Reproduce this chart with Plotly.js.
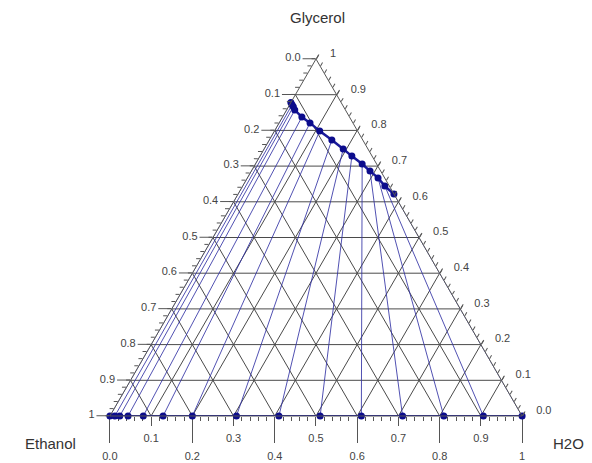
<!DOCTYPE html>
<html>
<head>
<meta charset="utf-8">
<script src="https://cdn.plot.ly/plotly-3.0.1.min.js"></script>
<style>
  html, body { margin: 0; padding: 0; background: #fff; }
  #chart { width: 592px; height: 463px; }
</style>
</head>
<body>
<div id="chart"></div>
<script>
// Tie lines: each joins a point on the Ethanol–H2O edge (no glycerol)
// to a glycerol-rich point near the top of the diagram.
const h2oBottom = [0, 0.012, 0.024, 0.044, 0.081, 0.129, 0.2, 0.307, 0.41, 0.51, 0.61, 0.71, 0.81, 0.906, 1.0];
const glycerolTop = [0.878, 0.872, 0.866, 0.857, 0.8375, 0.821, 0.798, 0.773, 0.748, 0.728, 0.706, 0.686, 0.667, 0.644, 0.622];
const h2oTop = [0, 0.006, 0.012, 0.020, 0.047, 0.075, 0.11, 0.152, 0.192, 0.223, 0.259, 0.288, 0.317, 0.345, 0.378];

// Grid levels and edge labels
const gridLevels = [0.1, 0.2, 0.3, 0.4, 0.5, 0.6, 0.7, 0.8, 0.9];
const majorVals = [0, 0.1, 0.2, 0.3, 0.4, 0.5, 0.6, 0.7, 0.8, 0.9, 1];
const ethanolLabels = ['1', '0.9', '0.8', '0.7', '0.6', '0.5', '0.4', '0.3', '0.2', '0.1', '0.0'];  // left edge, at glycerol 0 → 1
const h2oLabels = ['0.0', '0.1', '0.2', '0.3', '0.4', '0.5', '0.6', '0.7', '0.8', '0.9', '1'];      // bottom edge, at water 0 → 1
const glycerolLabels = ['1', '0.9', '0.8', '0.7', '0.6', '0.5', '0.4', '0.3', '0.2', '0.1', '0.0']; // right edge, at water 0 → 1

// minor ticks every 0.02
const minorVals = [];
for (let i = 0; i <= 50; i++) minorVals.push(i / 50);

// Tie-line segments, separated by gaps
const tieA = [], tieB = [], tieC = [];
h2oBottom.forEach((w, i) => {
  tieA.push(0, glycerolTop[i], null);
  tieC.push(w, h2oTop[i], null);
  tieB.push(1 - w, 1 - glycerolTop[i] - h2oTop[i], null);
});

// Grid lines of constant glycerol, ethanol and water
const gA = [], gB = [], gC = [];
gridLevels.forEach(v => {
  gA.push(v, v, null);     gB.push(1 - v, 0, null);  gC.push(0, 1 - v, null);
  gA.push(1 - v, 0, null); gB.push(v, v, null);      gC.push(0, 1 - v, null);
  gA.push(1 - v, 0, null); gB.push(0, 1 - v, null);  gC.push(v, v, null);
});

const FONT = 'Liberation Sans, Arial, sans-serif';
const TICKFONT = { family: FONT, size: 11, color: '#444' };
const NAVY = '#0c0c8c';

const traces = [
  { type: 'scatterternary', mode: 'lines', a: gA, b: gB, c: gC,
    line: { color: '#4a4a4a', width: 1 }, hoverinfo: 'skip', showlegend: false },
  { type: 'scatterternary', mode: 'lines', a: tieA, b: tieB, c: tieC, cliponaxis: false,
    line: { color: 'rgba(50,50,165,0.85)', width: 1 }, hoverinfo: 'skip', showlegend: false },
  // Ethanol–H2O edge compositions
  { type: 'scatterternary', mode: 'lines+markers', cliponaxis: false,
    a: h2oBottom.map(() => 0), b: h2oBottom.map(w => 1 - w), c: h2oBottom,
    line: { color: '#1a1a9a', width: 2 }, marker: { color: NAVY, size: 7 }, showlegend: false },
  // Glycerol-rich compositions
  { type: 'scatterternary', mode: 'lines+markers', cliponaxis: false,
    a: glycerolTop, b: glycerolTop.map((g, i) => 1 - g - h2oTop[i]), c: h2oTop,
    line: { color: '#1a1a9a', width: 2.5 }, marker: { color: NAVY, size: 7 }, showlegend: false },
  // second frame carrying the labelled major ticks
  { type: 'scatterternary', subplot: 'ternary2', a: [], b: [], c: [], showlegend: false },
  // water-fraction scale along the base, for the vertical ticks
  { type: 'scatter', x: [], y: [], xaxis: 'x', yaxis: 'y', showlegend: false },
  { type: 'scatter', x: [], y: [], xaxis: 'x2', yaxis: 'y', showlegend: false }
];

function tAxis(vals, len, texts, line) {
  return {
    tickmode: 'array', tickvals: vals, ticktext: texts || vals.map(() => ''),
    ticks: vals.length ? 'outside' : '', ticklen: len, tickcolor: '#555', tickwidth: 1,
    showticklabels: !!texts, showgrid: false,
    showline: !!line, linecolor: '#555', linewidth: 1,
    tickfont: TICKFONT, min: 0, title: { text: '' }
  };
}

// Plot area and the triangle inside it (height-limited)
const M = { l: 96, r: 56, t: 59, b: 47 };
const plotW = 592 - M.l - M.r, plotH = 463 - M.t - M.b;
const triW = plotH * 2 / Math.sqrt(3);
const baseDomain = [(plotW - triW) / 2 / plotW, (plotW + triW) / 2 / plotW];

const oddVals = [0.1, 0.3, 0.5, 0.7, 0.9];
const evenVals = [0, 0.2, 0.4, 0.6, 0.8, 1];
const h2oText = v => h2oLabels[Math.round(v * 10)];
const PAD = '\u00a0\u00a0\u00a0';

const layout = {
  width: 592, height: 463,
  margin: M,
  paper_bgcolor: '#fff',
  plot_bgcolor: 'rgba(0,0,0,0)',
  font: { family: FONT, color: '#333' },
  showlegend: false,
  ternary: {
    sum: 1, bgcolor: '#fff', domain: { x: [0, 1], y: [0, 1] },
    aaxis: tAxis(minorVals, 4, null, true),
    baxis: tAxis([], 0, null, true),
    caxis: tAxis(minorVals, 4, null, true)
  },
  ternary2: {
    sum: 1, bgcolor: 'rgba(0,0,0,0)', domain: { x: [0, 1], y: [0, 1] },
    aaxis: tAxis(majorVals, 13, ethanolLabels, false),
    baxis: tAxis([], 0, null, false),
    caxis: tAxis(majorVals, 5, glycerolLabels.map(t => PAD + t), false)
  },
  xaxis: {
    domain: baseDomain, range: [0, 1], anchor: 'y',
    showline: false, showgrid: false, zeroline: false,
    tickmode: 'array', tickvals: oddVals, ticktext: oddVals.map(h2oText),
    ticks: 'outside', ticklen: 9, tickcolor: '#555', tickwidth: 1, ticklabelstandoff: 3,
    tickfont: TICKFONT,
    minor: { tickmode: 'array', tickvals: minorVals, ticks: 'outside', ticklen: 4, tickcolor: '#555', showgrid: false }
  },
  xaxis2: {
    domain: baseDomain, range: [0, 1], anchor: 'y', overlaying: 'x',
    showline: false, showgrid: false, zeroline: false,
    tickmode: 'array', tickvals: evenVals, ticktext: evenVals.map(h2oText),
    ticks: 'outside', ticklen: 26, tickcolor: '#555', tickwidth: 1, ticklabelstandoff: 4,
    tickfont: TICKFONT
  },
  yaxis: { domain: [0, 1], range: [0, 1], visible: false, fixedrange: true },
  annotations: [
    { text: 'Glycerol', xref: 'paper', yref: 'paper', x: (317 - M.l) / plotW, y: 1 + (M.t - 18) / plotH,
      xanchor: 'center', yanchor: 'middle', showarrow: false, font: { size: 15, color: '#333' } },
    { text: 'Ethanol', xref: 'paper', yref: 'paper', x: (50 - M.l) / plotW, y: -(443 - 416) / plotH,
      xanchor: 'center', yanchor: 'middle', showarrow: false, font: { size: 15, color: '#333' } },
    { text: 'H2O', xref: 'paper', yref: 'paper', x: (568 - M.l) / plotW, y: -(443 - 416) / plotH,
      xanchor: 'center', yanchor: 'middle', showarrow: false, font: { size: 15, color: '#333' } }
  ]
};

Plotly.newPlot('chart', traces, layout, { displayModeBar: false, staticPlot: true });
</script>
</body>
</html>
